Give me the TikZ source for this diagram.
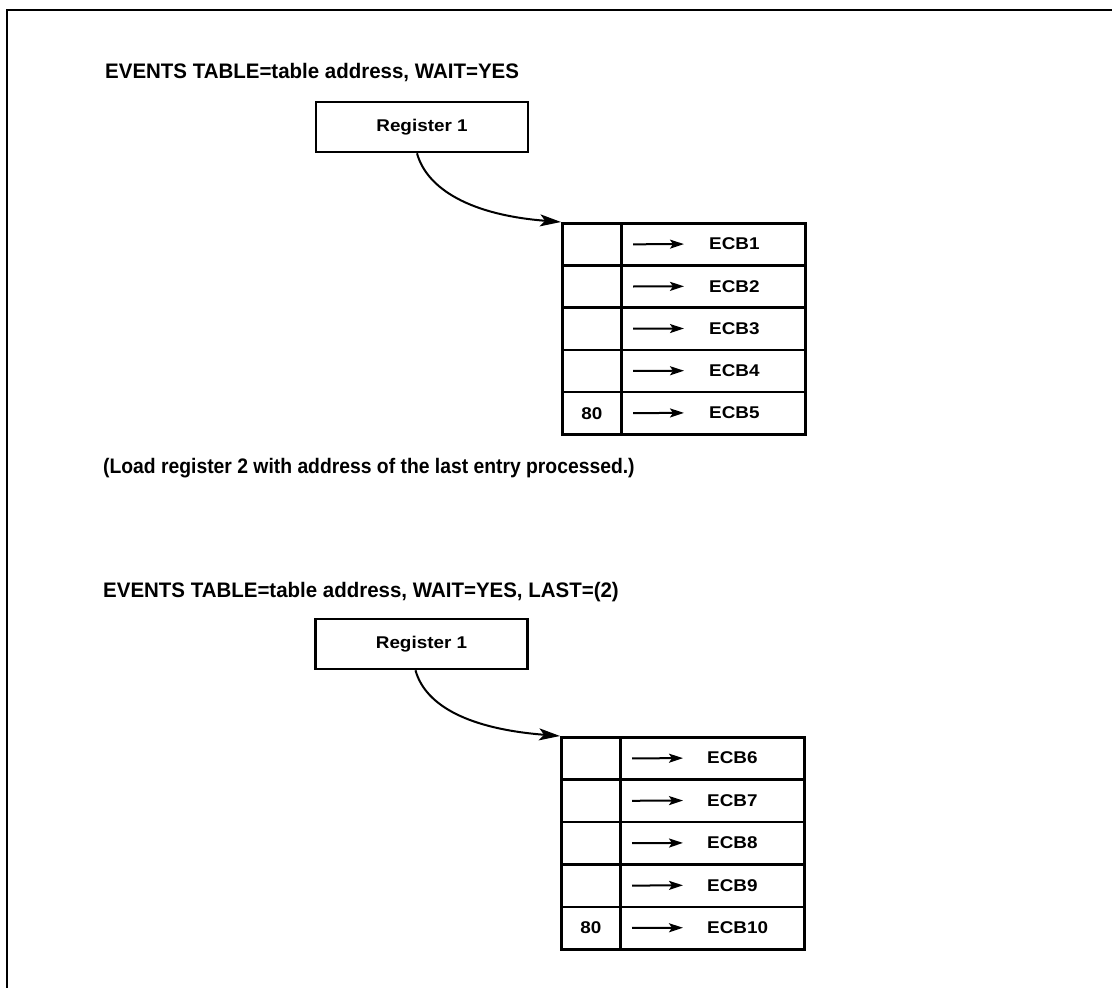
\documentclass[tikz,border=0pt]{standalone}
\usepackage{fontspec}
\setmainfont{Liberation Sans}
\newfontfamily\boxfont[FakeStretch=1.11]{Liberation Sans}
\newfontfamily\headfont[FakeStretch=0.975]{Liberation Sans}
\newfontfamily\notefont[FakeStretch=0.92]{Liberation Sans}
\usetikzlibrary{arrows.meta}
\begin{document}
\begin{tikzpicture}[x=1pt,y=-1pt,
  frame/.style={line width=2.8pt},
  txt/.style={font=\boxfont\bfseries\fontsize{17}{20}\selectfont},
  regbox/.style={draw, line width=2.6pt, minimum width=212pt, minimum height=50pt, inner sep=0pt, txt},
  lcell/.style={draw, line width=2.5pt, minimum width=59pt, minimum height=42.2pt, inner sep=0pt, anchor=north west, txt},
  rcell/.style={lcell, minimum width=184pt},
  ecb/.style={anchor=west, inner sep=0pt, txt},
  ptr/.style={line width=2pt, -{Stealth[length=14pt,width=9pt,inset=3pt]}},
  link/.style={line width=2pt, -{Stealth[length=21pt,width=12pt,inset=5pt]}},
  title/.style={anchor=base west, inner sep=0pt, font=\headfont\bfseries\fontsize{21}{24}\selectfont},
  notestyle/.style={title, font=\notefont\bfseries\fontsize{21}{24}\selectfont}
]
\useasboundingbox (0,0) rectangle (1112,988);
\draw[frame] (7,988) -- (7,10) -- (1112,10);

% ---- first example
\node[title] (h1) at (105,78) {EVENTS TABLE=table address, WAIT=YES};
\node[regbox] (reg1) at (422,127) {Register 1};
\foreach \i/\lab/\v in {1/ECB1/,2/ECB2/,3/ECB3/,4/ECB4/,5/ECB5/80} {
  \node[lcell] (al\i) at (561,{222+(\i-1)*42.2}) {\v};
  \node[rcell] (ar\i) at (620,{222+(\i-1)*42.2}) {};
  \node[ecb] (ae\i) at (709,{244+(\i-1)*42.2}) {\lab};
  \draw[ptr, shorten <=13pt, shorten >=25pt] (ar\i.west) -- (ae\i.west);
}
\draw[link] ([xshift=-5pt]reg1.south) .. controls +(10,36) and +(-90,-7) .. (al1.north west);

\node[notestyle] (note) at (103,473) {(Load register 2 with address of the last entry processed.)};

% ---- second example
\node[title] (h2) at (103,597) {EVENTS TABLE=table address, WAIT=YES, LAST=(2)};
\node[regbox] (reg2) at (421.5,644) {Register 1};
\foreach \i/\lab/\v in {1/ECB6/,2/ECB7/,3/ECB8/,4/ECB9/,5/ECB10/80} {
  \node[lcell, minimum height=42.4pt] (bl\i) at (560,{736+(\i-1)*42.4}) {\v};
  \node[rcell, minimum width=184pt, minimum height=42.4pt] (br\i) at (619,{736+(\i-1)*42.4}) {};
  \node[ecb] (be\i) at (707,{758+(\i-1)*42.4}) {\lab};
  \draw[ptr, shorten <=13pt, shorten >=24pt] (br\i.west) -- (be\i.west);
}
\draw[link] ([xshift=-6pt]reg2.south) .. controls +(10,36) and +(-90,-7) .. (bl1.north west);
\end{tikzpicture}
\end{document}
